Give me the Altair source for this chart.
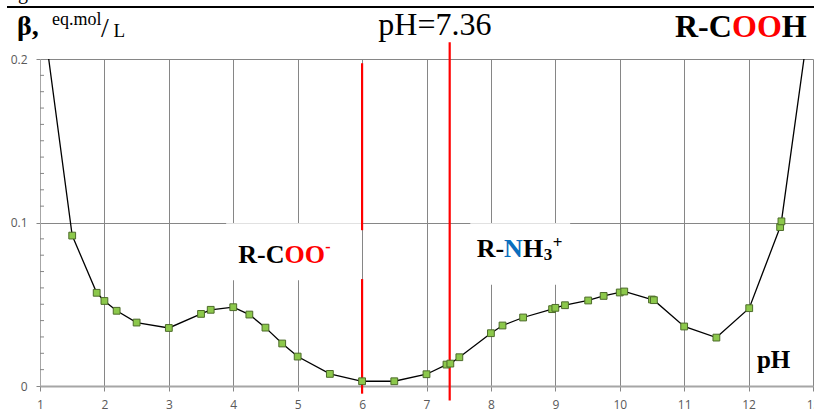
import altair as alt
import pandas as pd

# ---- data ----
ph = [1.0, 1.5, 1.88, 2.0, 2.19, 2.5, 3.0, 3.5, 3.65, 4.0, 4.25, 4.5, 4.76, 5.0,
      5.5, 6.0, 6.5, 7.0, 7.31, 7.37, 7.51, 8.0, 8.18, 8.5, 8.95, 9.0, 9.15,
      9.51, 9.75, 10.0, 10.07, 10.5, 10.53, 11.0, 11.5, 12.01, 12.49, 12.51, 13.0]
beta = [0.24, 0.092, 0.057, 0.052, 0.046, 0.0388, 0.0355, 0.0441, 0.0466, 0.0482,
        0.0437, 0.0357, 0.026, 0.018, 0.0074, 0.0029, 0.0029, 0.0072, 0.0131,
        0.0137, 0.0176, 0.0323, 0.037, 0.0419, 0.047, 0.0478, 0.0494, 0.0523,
        0.0551, 0.0572, 0.0578, 0.0529, 0.0525, 0.0364, 0.0296, 0.0476, 0.0972,
        0.1007, 0.24]

x_ticks = list(range(1, 14))
y_ticks = [0, 0.1, 0.2]
y_minor = [round(i * 0.01, 2) for i in range(1, 20) if i != 10]

red_ph = [6.0, 6.0, 7.36]
red_top = [0.1974, 0.0654, 0.2102]
red_bottom = [0.0953, -0.0047, -0.0088]

box_ph1 = [3.89, 7.68]
box_ph2 = [5.985, 9.23]
box_b1 = [0.0647, 0.062]
box_b2 = [0.0995, 0.0995]

df = pd.DataFrame({"pH": ph, "beta": beta, "order": list(range(len(ph)))})
red_df = pd.DataFrame({"pH": red_ph, "top": red_top, "bottom": red_bottom})
box_df = pd.DataFrame({"x1": box_ph1, "x2": box_ph2, "y1": box_b1, "y2": box_b2})
minor_df = pd.DataFrame({"b": y_minor})

W, H = 773, 327
SERIF = "Liberation Serif"

xs = alt.Scale(domain=[1, 13], nice=False, zero=False)
ys = alt.Scale(domain=[0, 0.2], nice=False, zero=False)

x_axis = alt.Axis(values=x_ticks, title=None, grid=True, gridColor="#868686",
                  gridWidth=1, domainColor="#a6a6a6", domainWidth=2,
                  tickColor="#868686", tickSize=5, labelColor="#595959",
                  labelFont="Open Sans", labelFontSize=12, labelPadding=8,
                  format="d", labelFlush=False, labelOverlap=False)
y_axis = alt.Axis(values=y_ticks, title=None, grid=True, gridColor="#868686",
                  gridWidth=1, domainColor="#a6a6a6", domainWidth=1,
                  tickColor="#868686", tickSize=4, labelColor="#595959",
                  labelFont="Open Sans", labelFontSize=12, labelPadding=9,
                  format="~g", labelFlush=False, labelOverlap=False)

base = alt.Chart(df)

boxes = alt.Chart(box_df).mark_rect(color="white").encode(
    x=alt.X("x1:Q", scale=xs, axis=x_axis), x2="x2:Q",
    y=alt.Y("y1:Q", scale=ys, axis=y_axis), y2="y2:Q")

minor = alt.Chart(minor_df).mark_rule(color="#868686", strokeWidth=1).encode(
    y=alt.Y("b:Q", scale=ys), x=alt.value(0), x2=alt.value(4))

reds = alt.Chart(red_df).mark_rule(color="#ff0000", strokeWidth=2.2).encode(
    x=alt.X("pH:Q", scale=xs), y=alt.Y("top:Q", scale=ys), y2="bottom:Q")

line = base.mark_line(color="black", strokeWidth=1.3, clip=True).encode(
    x=alt.X("pH:Q", scale=xs), y=alt.Y("beta:Q", scale=ys), order="order:Q")

pts = base.mark_point(shape="square", filled=True, size=46, fill="#8cc84b",
                      stroke="#4d6b2a", strokeWidth=1, opacity=1, clip=True).encode(
    x=alt.X("pH:Q", scale=xs), y=alt.Y("beta:Q", scale=ys))


def dtxt(text, px, by, size, color="black", bold=True, dx=0, dy=0):
    return alt.Chart(pd.DataFrame({"t": [text]})).mark_text(
        text=text, font=SERIF, fontSize=size, color=color,
        fontWeight="bold" if bold else "normal", align="left",
        baseline="alphabetic", dx=dx, dy=dy).encode(
        x=alt.datum(px), y=alt.datum(by))


def ptxt(text, x, y, size, color="black", bold=True, align="left"):
    return alt.Chart(pd.DataFrame({"t": [text]})).mark_text(
        text=text, font=SERIF, fontSize=size, color=color,
        fontWeight="bold" if bold else "normal", align=align,
        baseline="alphabetic").encode(
        x=alt.value(x - 40), y=alt.value(y - 59))


texts = [
    # R-COO-
    dtxt("R-C", 4.078, 0.075, 26),
    dtxt("OO", 4.078, 0.075, 26, color="#ff0000", dx=46.2),
    dtxt("-", 4.078, 0.075, 16, color="#ff0000", dx=87, dy=-11),
    # R-NH3+
    dtxt("R-", 7.779, 0.0787, 26),
    dtxt("N", 7.779, 0.0787, 26, color="#0a6ebd", dx=27.4),
    dtxt("H", 7.779, 0.0787, 26, dx=46.2),
    dtxt("3", 7.779, 0.0787, 17, dx=67, dy=3),
    dtxt("+", 7.779, 0.0787, 17, dx=76, dy=-9),
    # pH axis label
    dtxt("pH", 12.13, 0.0108, 25),
    # top titles
    ptxt("R-C", 675, 37.3, 32),
    ptxt("OO", 732, 37.3, 32, color="#ff0000"),
    ptxt("H", 781.7, 37.3, 32),
    ptxt("pH=7.36", 378.3, 35, 32, bold=False),
    ptxt("β,", 17, 35, 28),
    ptxt("eq.mol", 52, 24.7, 18, bold=False),
    ptxt("/", 101, 37, 28, bold=False),
    ptxt("L", 113.5, 36.5, 19, bold=False),
    ptxt("g", 18, -1.5, 20, bold=False),
]

top_rule = alt.Chart(pd.DataFrame({"a": [0]})).mark_rule(
    color="black", strokeWidth=2.2).encode(
    x=alt.value(7 - 40), x2=alt.value(814 - 40), y=alt.value(7 - 59))

chart = alt.layer(boxes, minor, reds, line, pts, top_rule, *texts).properties(
    width=W, height=H,
    autosize=alt.AutoSizeParams(type="none"),
    padding={"left": 40, "top": 59, "right": 1, "bottom": 30},
    background="white",
).configure_view(stroke=None)

chart.save("out.html", embed_options={"renderer": "svg", "actions": False})
